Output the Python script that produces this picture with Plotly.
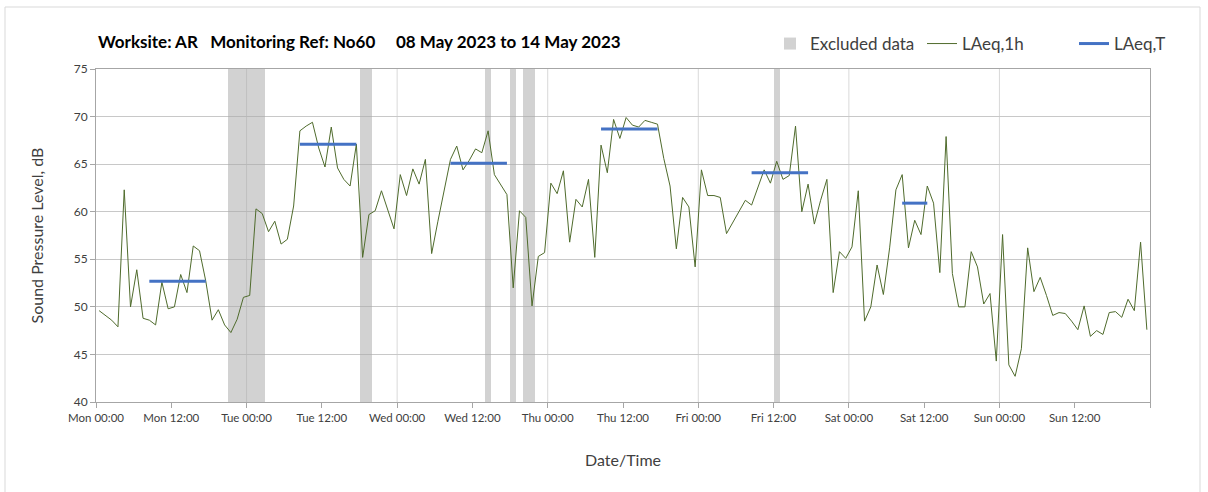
import pandas as pd
import plotly.graph_objects as go

# ---- Monitoring data -------------------------------------------------------
period_start = "2023-05-08 00:00"

# Hourly LAeq,1h values (dB), Mon 00:00 .. Sun 23:00
laeq_1h = [
    49.6, 49.1, 48.6, 47.9, 62.3, 50.0, 53.9, 48.8, 48.6, 48.1, 52.6, 49.8,
    50.0, 53.4, 51.5, 56.4, 55.9, 52.7, 48.6, 49.7, 48.1, 47.3, 48.7, 51.0,
    51.2, 60.3, 59.8, 57.9, 59.0, 56.6, 57.1, 60.6, 68.5, 69.0, 69.4, 66.7,
    64.7, 68.9, 64.6, 63.4, 62.7, 67.1, 55.2, 59.7, 60.1, 62.2, 60.2, 58.2,
    63.9, 61.7, 64.5, 62.9, 65.5, 55.6, 59.0, 62.3, 65.5, 66.9, 64.4, 65.4,
    66.6, 66.2, 68.5, 63.9, 62.8, 61.8, 52.0, 60.1, 59.4, 50.1, 55.3, 55.7,
    63.0, 61.9, 64.3, 56.8, 61.3, 60.5, 63.4, 55.2, 67.0, 64.1, 69.7, 67.7,
    69.9, 69.1, 68.9, 69.6, 69.4, 69.2, 65.6, 62.7, 56.1, 61.5, 60.5, 54.2,
    64.4, 61.7, 61.7, 61.5, 57.7, 58.9, 60.0, 61.2, 60.7, 62.6, 64.4, 63.0,
    65.3, 63.4, 63.8, 69.0, 60.0, 62.9, 58.7, 61.2, 63.4, 51.5, 55.8, 55.1,
    56.3, 62.2, 48.5, 50.0, 54.4, 51.3, 56.2, 62.3, 63.9, 56.2, 59.1, 57.6,
    62.7, 60.9, 53.6, 67.9, 53.5, 50.0, 50.0, 55.8, 54.2, 50.3, 51.4, 44.3,
    57.6, 43.9, 42.7, 45.6, 56.2, 51.6, 53.1, 51.2, 49.1, 49.4, 49.3, 48.5,
    47.6, 50.1, 46.9, 47.5, 47.1, 49.4, 49.5, 48.9, 50.8, 49.6, 56.8, 47.6,
]

# Working-period LAeq,T (dB)
laeq_t_start = ["2023-05-08 08:00", "2023-05-09 08:00", "2023-05-10 08:00",
                "2023-05-11 08:00", "2023-05-12 08:00", "2023-05-13 08:00"]
laeq_t_end = ["2023-05-08 18:00", "2023-05-09 18:00", "2023-05-10 18:00",
              "2023-05-11 18:00", "2023-05-12 18:00", "2023-05-13 13:00"]
laeq_t = [52.7, 67.1, 65.1, 68.7, 64.1, 60.9]

# Excluded data periods
excluded_start = ["2023-05-08 21:00", "2023-05-09 18:00", "2023-05-10 14:00",
                  "2023-05-10 18:00", "2023-05-10 20:00", "2023-05-12 12:00"]
excluded_end = ["2023-05-09 03:00", "2023-05-09 20:00", "2023-05-10 15:00",
                "2023-05-10 19:00", "2023-05-10 22:00", "2023-05-12 13:00"]

# Axis ticks
x_tick_labels = ["Mon 00:00", "Mon 12:00", "Tue 00:00", "Tue 12:00",
                 "Wed 00:00", "Wed 12:00", "Thu 00:00", "Thu 12:00",
                 "Fri 00:00", "Fri 12:00", "Sat 00:00", "Sat 12:00",
                 "Sun 00:00", "Sun 12:00", ""]
y_ticks = [40, 45, 50, 55, 60, 65, 70, 75]

# ---- Derived plotting series -----------------------------------------------
t0 = pd.Timestamp(period_start)
half_hour = pd.Timedelta(minutes=30)
hour_times = [t0 + pd.Timedelta(hours=i) + half_hour for i in range(len(laeq_1h))]

ex_s = pd.to_datetime(excluded_start)
ex_e = pd.to_datetime(excluded_end)
ex_mid = ex_s + (ex_e - ex_s) / 2
ex_width = [(e - s).total_seconds() * 1000 for s, e in zip(ex_s, ex_e)]

lt_x, lt_y = [], []
for s, e, v in zip(laeq_t_start, laeq_t_end, laeq_t):
    # span from the first to the last hourly sample of the period
    lt_x += [pd.Timestamp(s) + half_hour, pd.Timestamp(e) - half_hour, None]
    lt_y += [v, v, None]

tick_vals = [t0 + pd.Timedelta(hours=12 * k) for k in range(len(x_tick_labels))]
day_lines = [t0 + pd.Timedelta(days=d) for d in range(1, 7)]

FONT = "Lato, 'Open Sans', sans-serif"
TXT = "#404040"

fig = go.Figure()

fig.add_trace(go.Bar(
    x=ex_mid, y=[35] * len(ex_mid), base=40, width=ex_width,
    marker=dict(color="rgba(168,168,168,0.52)", line=dict(width=0)),
    name="Excluded data", hoverinfo="skip",
))
fig.add_trace(go.Scatter(
    x=hour_times, y=laeq_1h, mode="lines", name="LAeq,1h",
    line=dict(color="#4f6b2c", width=1),
))
fig.add_trace(go.Scatter(
    x=lt_x, y=lt_y, mode="lines", name="LAeq,T",
    line=dict(color="#4472c4", width=3),
))

# Vertical gridlines at day boundaries only
for d in day_lines:
    fig.add_shape(type="line", xref="x", yref="paper", x0=d, x1=d, y0=0, y1=1,
                  line=dict(color="#d9d9d9", width=1), layer="below")

# Outer chart frame
L, R, T, B = 96, 58, 69, 90
W, H = 1208, 492
pw, ph = W - L - R, H - T - B
fig.add_shape(type="rect", xref="paper", yref="paper",
              x0=(5 - L) / pw, x1=(1200 - L) / pw,
              y0=(H - B - 500) / ph, y1=(H - B - 7) / ph,
              line=dict(color="#d9d9d9", width=1), fillcolor="rgba(0,0,0,0)")

fig.add_annotation(
    text="Worksite: AR&nbsp;&nbsp;&nbsp;Monitoring Ref: No60&nbsp;&nbsp;&nbsp;&nbsp;&nbsp;08 May 2023 to 14 May 2023",
    xref="paper", yref="paper", x=0, y=(H - B - 42) / ph,
    xanchor="left", yanchor="middle", showarrow=False,
    font=dict(family=FONT, size=17, color="#000000", weight="bold"),
)

fig.update_layout(
    width=W, height=H,
    margin=dict(l=L, r=R, t=T, b=B, autoexpand=False),
    paper_bgcolor="white", plot_bgcolor="white",
    barmode="overlay", bargap=0,
    font=dict(family=FONT, color=TXT),
    showlegend=True,
    legend=dict(
        orientation="h", x=(770 - L) / pw, xanchor="left",
        y=(H - B - 44) / ph, yanchor="middle",
        entrywidth=107, entrywidthmode="pixels",
        font=dict(size=17, color=TXT), bgcolor="rgba(0,0,0,0)",
        traceorder="normal",
    ),
    xaxis=dict(
        type="date",
        range=[t0, t0 + pd.Timedelta(days=7)],
        tickmode="array", tickvals=tick_vals, ticktext=x_tick_labels,
        showgrid=False, showline=True, linecolor="#a6a6a6", mirror=True,
        ticks="outside", ticklen=5, tickcolor="#a6a6a6",
        tickfont=dict(size=11.5, color=TXT),
        title=dict(text="Date/Time", font=dict(size=16, color=TXT), standoff=32),
    ),
    yaxis=dict(
        range=[40, 75], tickmode="array", tickvals=y_ticks,
        showgrid=True, gridcolor="#c8c8c8", gridwidth=1, zeroline=False,
        showline=True, linecolor="#a6a6a6", mirror=True,
        ticks="outside", ticklen=5, tickcolor="#a6a6a6",
        tickfont=dict(size=12, color=TXT),
        title=dict(text="Sound Pressure Level, dB", font=dict(size=16, color=TXT), standoff=26),
    ),
)

fig.write_html("out.html")
